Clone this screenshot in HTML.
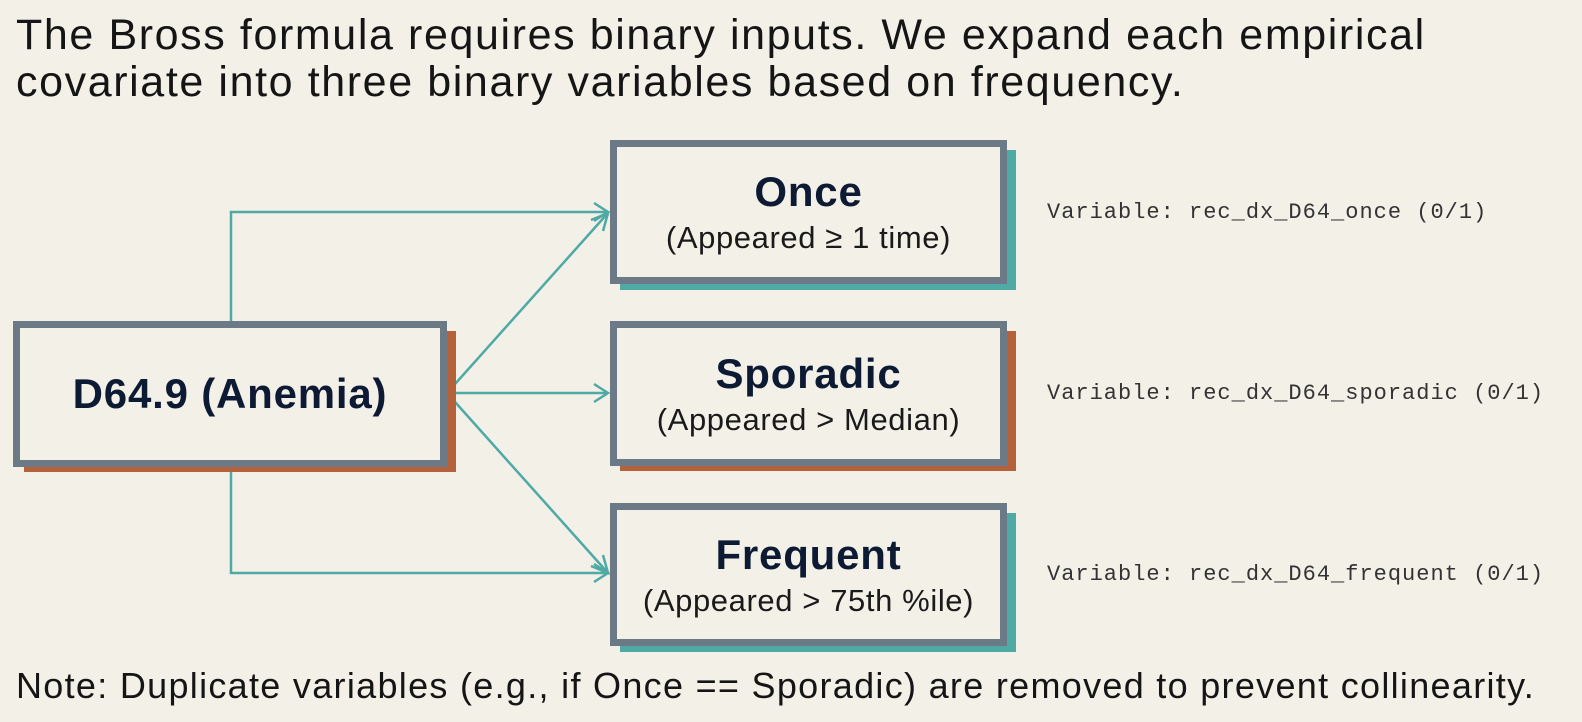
<!DOCTYPE html>
<html><head><style>
body{margin:0;width:1582px;height:722px;background:#f3f0e8;font-family:"Liberation Sans",sans-serif;overflow:hidden;position:relative;color:#111}
.t{position:absolute;left:16px;font-size:43px;letter-spacing:1.6px;line-height:47px;color:#151515}
.box{position:absolute;box-sizing:border-box;border:7px solid #6b7a86;background:#f3f0e8;text-align:center;display:flex;flex-direction:column;justify-content:center;color:#0d1a33}
.b{font-weight:bold;font-size:42px;letter-spacing:0.8px}
.s{font-size:31px;letter-spacing:0.6px;color:#1a1a1a;margin-top:4px}
.sh{position:absolute}
.m{position:absolute;left:1047px;font-family:"Liberation Mono",monospace;font-size:22px;letter-spacing:1px;color:#333}
</style></head><body>
<div class="t" style="top:12px">The Bross formula requires binary inputs. We expand each empirical<br>covariate into three binary variables based on frequency.</div>
<svg width="1582" height="722" style="position:absolute;left:0;top:0">
<g stroke="#4fa9a4" stroke-width="2.5" fill="none">
<polyline points="231,321 231,212 608,212"/>
<line x1="447" y1="393" x2="608" y2="213"/>
<line x1="447" y1="393" x2="608" y2="393"/>
<line x1="447" y1="393" x2="608" y2="573"/>
<polyline points="231,466 231,573 608,573"/>
<polyline points="594,203 608,212 594,221"/>
<polyline points="594,384 608,393 594,402"/>
<polyline points="594,564 608,573 594,582"/>
<polyline points="591,220 608,213 603,231"/>
<polyline points="603,555 608,573 591,566"/>
</g></svg>
<div class="sh" style="left:24px;top:331px;width:432px;height:141px;background:#b5623a"></div>
<div class="box" style="left:13px;top:321px;width:434px;height:146px"><div class="b">D64.9 (Anemia)</div></div>
<div class="sh" style="left:620px;top:150px;width:396px;height:140px;background:#4fa9a4"></div>
<div class="box" style="left:610px;top:140px;width:397px;height:144px"><div class="b">Once</div><div class="s">(Appeared ≥ 1 time)</div></div>
<div class="sh" style="left:620px;top:331px;width:396px;height:140px;background:#b5623a"></div>
<div class="box" style="left:610px;top:321px;width:397px;height:145px"><div class="b">Sporadic</div><div class="s">(Appeared &gt; Median)</div></div>
<div class="sh" style="left:620px;top:513px;width:396px;height:139px;background:#4fa9a4"></div>
<div class="box" style="left:610px;top:503px;width:397px;height:143px"><div class="b">Frequent</div><div class="s">(Appeared &gt; 75th %ile)</div></div>
<div class="m" style="top:200px">Variable: rec_dx_D64_once (0/1)</div>
<div class="m" style="top:381px">Variable: rec_dx_D64_sporadic (0/1)</div>
<div class="m" style="top:562px">Variable: rec_dx_D64_frequent (0/1)</div>
<div class="t" style="top:665px;font-size:36px;letter-spacing:1.3px;line-height:42px">Note: Duplicate variables (e.g., if Once == Sporadic) are removed to prevent collinearity.</div>
</body></html>
